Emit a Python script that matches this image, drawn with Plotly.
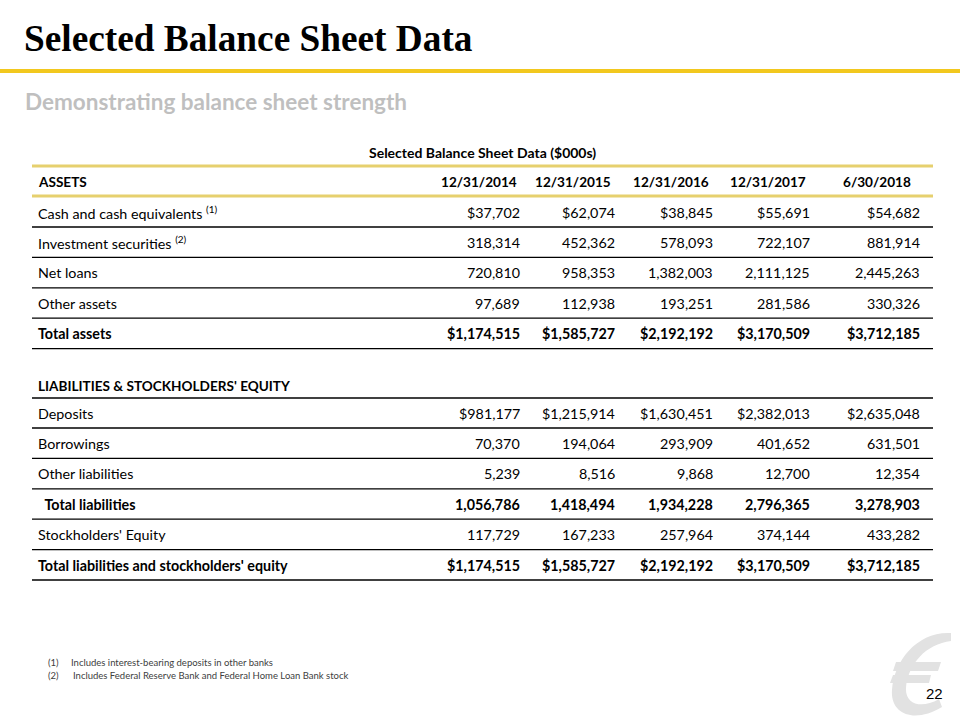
import plotly.graph_objects as go

# ---------------- data ----------------
title = "Selected Balance Sheet Data"
subtitle = "Demonstrating balance sheet strength"
table_title = "Selected Balance Sheet Data ($000s)"
periods = ["12/31/2014", "12/31/2015", "12/31/2016", "12/31/2017", "6/30/2018"]

asset_labels = ["Cash and cash equivalents <sup>(1)</sup>", "Investment securities <sup>(2)</sup>",
                "Net loans", "Other assets", "Total assets"]
cash = [37702, 62074, 38845, 55691, 54682]
investment_securities = [318314, 452362, 578093, 722107, 881914]
net_loans = [720810, 958353, 1382003, 2111125, 2445263]
other_assets = [97689, 112938, 193251, 281586, 330326]
total_assets = [1174515, 1585727, 2192192, 3170509, 3712185]

liab_labels = ["Deposits", "Borrowings", "Other liabilities", "&nbsp;&nbsp;Total liabilities",
               "Stockholders' Equity", "Total liabilities and stockholders' equity"]
deposits = [981177, 1215914, 1630451, 2382013, 2635048]
borrowings = [70370, 194064, 293909, 401652, 631501]
other_liabilities = [5239, 8516, 9868, 12700, 12354]
total_liabilities = [1056786, 1418494, 1934228, 2796365, 3278903]
stockholders_equity = [117729, 167233, 257964, 374144, 433282]
total_liab_equity = [1174515, 1585727, 2192192, 3170509, 3712185]

footnotes = ["Includes interest-bearing deposits in other banks",
             "Includes Federal Reserve Bank and Federal Home Loan Bank stock"]
page_number = "22"

# ---------------- layout constants ----------------
W, H = 960, 720
BODY = "Lato"
X_LEFT, X_RIGHT = 32, 933
VAL_RIGHT = [522, 617, 715, 812, 922]
HEAD_RIGHT = [519, 613, 711, 808, 913]
ROW_H = 30.4
FS = 14.3
LOGO_GRAY = "#E2E2E2"

fig = go.Figure()
ann = []
shapes = []

def line(y, color="black", width=1.3):
    shapes.append(dict(type="line", xref="x", yref="y", x0=X_LEFT, x1=X_RIGHT, y0=y, y1=y,
                       line=dict(color=color, width=width)))

def text(x, y, s, size=FS, bold=False, color="black", xanchor="left", family=BODY):
    ann.append(dict(x=x, y=y, xref="x", yref="y", text=s, showarrow=False, xanchor=xanchor,
                    yanchor="middle", font=dict(family=family, size=size, color=color,
                                                weight="bold" if bold else "normal")))

def fmt(v, dollar):
    return ("$" if dollar else "") + f"{v:,}"

# logo (light gray stylised mark), drawn as filled paths below the text
logo_paths = [
    "M 951 633 C 918 631, 894 660, 892 690 C 890 714, 914 724, 942 707 "
    "L 939 699 C 920 710, 905 703, 906 688 C 908 664, 926 644, 951 641 Z",
    "M 896 662 L 941 662 L 938 671 L 893 671 Z",
    "M 893 675 L 931 675 L 929 683 L 890 683 Z",
]
for p in logo_paths:
    shapes.append(dict(type="path", xref="x", yref="y", path=p, fillcolor=LOGO_GRAY,
                       line=dict(width=0), layer="below"))

# title block
text(22, 38, f"<b>{title}</b>", size=37.3, family="Liberation Serif")
shapes.append(dict(type="line", xref="x", yref="y", x0=0, x1=W, y0=71, y1=71,
                   line=dict(color="#F2C81E", width=4)))
text(23, 101, subtitle, size=22.5, bold=True, color="#BFBFBF")

# table title and header
text(482, 152, table_title, size=14, bold=True, xanchor="center")
line(166, color="#E6D06E", width=3)
line(196, color="#E6D06E", width=3)
text(36, 182, "ASSETS", size=13.6, bold=True)
for i, p in enumerate(periods):
    text(HEAD_RIGHT[i], 182, p, size=13.6, bold=True, xanchor="right")

def rows(labels, series, dollar_flags, bold_flags, y0):
    y = y0
    for lab, vals, d, b in zip(labels, series, dollar_flags, bold_flags):
        text(36, y, lab, size=FS, bold=b)
        for i, v in enumerate(vals):
            text(VAL_RIGHT[i], y, fmt(v, d), size=FS, bold=b, xanchor="right")
        line(y + 15)
        y += ROW_H

rows(asset_labels, [cash, investment_securities, net_loans, other_assets, total_assets],
     [True, False, False, False, True], [False, False, False, False, True], 212)

text(36, 386, "LIABILITIES & STOCKHOLDERS' EQUITY", size=13.6, bold=True)
line(398)
rows(liab_labels, [deposits, borrowings, other_liabilities, total_liabilities,
                   stockholders_equity, total_liab_equity],
     [True, False, False, False, False, True], [False, False, False, True, False, True], 413)

# footnotes
for k, fn in enumerate(footnotes):
    yy = 662 + k * 13
    text(46, yy, f"({k+1})", size=9.5, color="#404040")
    text(69 + k * 2, yy, fn, size=9.5, color="#404040")

text(945, 693, page_number, size=15, family="Liberation Sans", xanchor="right")

fig.update_layout(
    width=W, height=H, margin=dict(l=0, r=0, t=0, b=0),
    paper_bgcolor="white", plot_bgcolor="rgba(0,0,0,0)",
    xaxis=dict(range=[0, W], visible=False, fixedrange=True),
    yaxis=dict(range=[H, 0], visible=False, fixedrange=True),
    annotations=ann, shapes=shapes, showlegend=False,
)
fig.write_html("out.html", config={"displayModeBar": False},
               post_script="document.body.style.margin='0';")
